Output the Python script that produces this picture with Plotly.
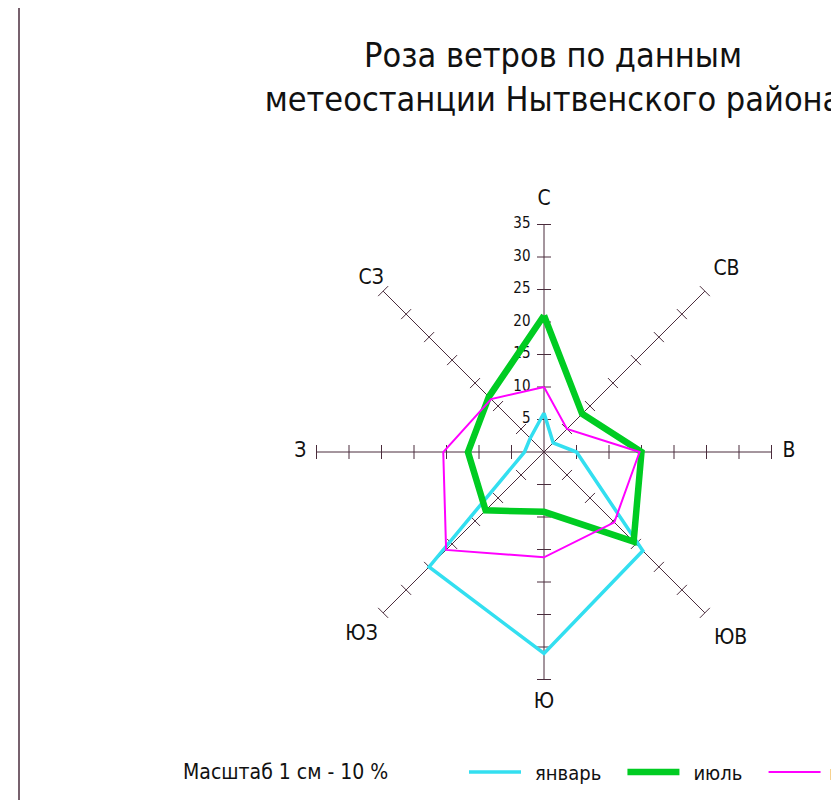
import plotly.graph_objects as go

# ---- data ----
directions = ["С", "СВ", "В", "ЮВ", "Ю", "ЮЗ", "З", "СЗ"]
january = [6, 2, 5, 21.5, 31, 25, 3, 3]
july = [21, 8.3, 15, 19.5, 9.2, 12.7, 11.7, 12]
year = [10, 5, 14.7, 15.3, 16.2, 21.3, 15.5, 11.5]
series_names = ["январь", "июль", "год"]
scale_ticks = [5, 10, 15, 20, 25, 30, 35]
scale_text = "Масштаб 1 см - 10 %"
title_text = "Роза ветров по данным<br>метеостанции Нытвенского района"

FONT = "Liberation Sans Narrow, Arial Narrow, DejaVu Sans Condensed, Liberation Sans, sans-serif"
AXIS_COLOR = "#4a2c3c"
R_MAX = 35
R_RANGE = 42

fig = go.Figure()

# axis spokes
tick_symbols = {"С": "line-ew", "Ю": "line-ew", "В": "line-ns", "З": "line-ns",
                "СВ": "line-nw", "ЮЗ": "line-nw", "СЗ": "line-ne", "ЮВ": "line-ne"}
for d in directions:
    fig.add_trace(go.Scatterpolar(
        r=[0, R_MAX], theta=[d, d], mode="lines",
        line=dict(color=AXIS_COLOR, width=1), showlegend=False, hoverinfo="skip"))
    fig.add_trace(go.Scatterpolar(
        r=scale_ticks, theta=[d] * len(scale_ticks), mode="markers",
        marker=dict(symbol=tick_symbols[d], size=10,
                    line=dict(color=AXIS_COLOR, width=1)),
        showlegend=False, hoverinfo="skip"))

# tick labels on the north axis
fig.add_trace(go.Scatterpolar(
    r=scale_ticks, theta=["С"] * len(scale_ticks), mode="text",
    text=[f"{v}\u2002\u2002" for v in scale_ticks], textposition="middle left",
    textfont=dict(family=FONT, size=15, color="#111111"),
    showlegend=False, hoverinfo="skip", cliponaxis=False))

# direction labels (label placement radii, styling only)
label_r = [38.8, 39.7, 37.7, 40.6, 38.6, 39.7, 37.5, 37.6]
fig.add_trace(go.Scatterpolar(
    r=label_r, theta=directions, mode="text", text=directions,
    textposition="middle center",
    textfont=dict(family=FONT, size=21, color="#111111"),
    showlegend=False, hoverinfo="skip", cliponaxis=False))

# data series
styles = [("#33dff0", 3.5, "\u2002"), ("#00cc22", 6.5, "\u2002"), ("#ff00ff", 2, "\u2009")]
for name, vals, (col, w, lead) in zip(series_names, [january, july, year], styles):
    fig.add_trace(go.Scatterpolar(
        r=vals + vals[:1], theta=directions + directions[:1], mode="lines",
        name=lead + name + "\u2002\u2009\u2009", line=dict(color=col, width=w),
        hoverinfo="skip"))

W, H = 839, 800
OFF = 8  # page body margin
PX_PER_UNIT = 6.5
cx, cy, rad = 544 - OFF, 452 - OFF, R_RANGE * PX_PER_UNIT
fig.update_layout(
    width=W, height=H,
    margin=dict(l=0, r=0, t=0, b=0, autoexpand=False),
    paper_bgcolor="white",
    title=dict(text=title_text, x=(553 - OFF) / W, xanchor="center", xref="paper",
               y=1 - (67 - OFF) / H, yanchor="top", yref="container",
               font=dict(family=FONT, size=34, color="#111111")),
    polar=dict(
        domain=dict(x=[(cx - rad) / W, (cx + rad) / W], y=[1 - (cy + rad) / H, 1 - (cy - rad) / H]),
        bgcolor="rgba(0,0,0,0)",
        radialaxis=dict(visible=False, range=[0, R_RANGE]),
        angularaxis=dict(visible=False, direction="clockwise", rotation=90,
                         categoryorder="array", categoryarray=directions),
    ),
    showlegend=True,
    legend=dict(orientation="h", x=(464 - OFF) / W, xanchor="left", y=1 - (772 - OFF) / H,
                yanchor="middle", itemwidth=52,
                font=dict(family=FONT, size=20, color="#111111"),
                bgcolor="rgba(0,0,0,0)", tracegroupgap=0),
    shapes=[dict(type="line", xref="paper", yref="paper", x0=(19 - OFF) / W, x1=(19 - OFF) / W,
                 y0=0, y1=1, line=dict(color=AXIS_COLOR, width=1.5))],
    annotations=[dict(text=scale_text, x=(181 - OFF) / W, y=1 - (772 - OFF) / H,
                      xref="paper", yref="paper",
                      xanchor="left", yanchor="middle", showarrow=False,
                      font=dict(family=FONT, size=21, color="#111111"))],
)

fig.write_html("out.html")
